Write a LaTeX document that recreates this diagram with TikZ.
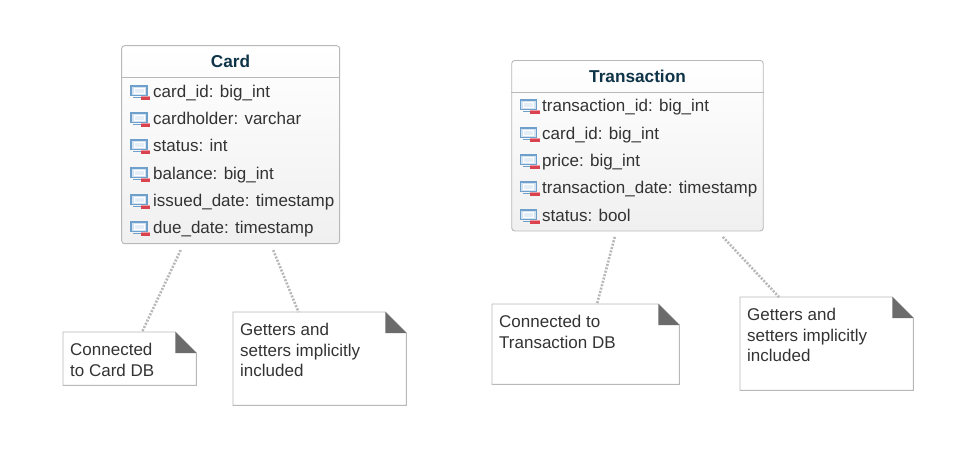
\documentclass[tikz,border=0pt]{standalone}
\usepackage{fontspec}
\setmainfont{Liberation Sans}
\definecolor{classline}{HTML}{B8B8B8}
\definecolor{titleblue}{HTML}{0F3448}
\definecolor{bodytext}{HTML}{333333}
\definecolor{foldgray}{HTML}{6B6B6B}
\definecolor{iconblue}{HTML}{6F9FCB}
\definecolor{iconpale}{HTML}{D3E3F2}
\definecolor{iconred}{HTML}{D8434F}
\definecolor{iconpink}{HTML}{EE9AA2}
\tikzset{
    x=1pt, y=-1pt,
    classbox/.style={rectangle, draw=classline, rounded corners=3pt, inner sep=0pt, anchor=north west, bottom color=black!6, top color=white, line width=0.9pt},
    classtitle/.style={inner sep=0pt, text=titleblue, font=\fontsize{17.2}{20}\selectfont\bfseries},
    fieldtext/.style={inner sep=0pt, anchor=base west, text=bodytext, font=\fontsize{17}{20}\selectfont},
    notebox/.style={rectangle, inner sep=0pt, anchor=north west},
    notetext/.style={inner sep=0pt, anchor=north west, align=left, text=bodytext, font=\fontsize{17}{20.5}\selectfont},
    noteline/.style={draw=black!28, line width=2.6pt, dash pattern=on 2pt off 1.5pt},
    pics/fieldicon/.style={code={
        \draw[draw=iconblue, fill=iconpale, line width=1.8pt] (0.9,0.9) rectangle (17,10.5);
        \draw[draw=white, fill=iconpale!60, line width=0.8pt] (4,3.5) rectangle (14,8);
        \fill[iconblue] (3,12) rectangle (14,13);
        \fill[iconred] (10.5,11) rectangle (20,15);
        \fill[iconpink] (10.5,11) rectangle (20,12);
    }},
}
\begin{document}
\begin{tikzpicture}
    \useasboundingbox (0,0) rectangle (955,451);
    % classes
    \node[classbox, minimum width=218pt, minimum height=198pt] (card) at (121.2,45.2) {};
    \node[classbox, minimum width=251.5pt, minimum height=170.5pt] (transaction) at (511.3,60) {};
    \draw[classline, line width=0.9pt] (card.west |- 0,77) -- (card.east |- 0,77);
    \draw[classline, line width=0.9pt] (transaction.west |- 0,92) -- (transaction.east |- 0,92);
    \node[classtitle] (cardtitle) at (230.5,61.5) {Card};
    \node[classtitle] (transactiontitle) at (637.5,76.5) {Transaction};
    % fields
    \foreach \yy/\txt in {97/card\_id: big\_int, 124/cardholder: varchar, 151/status: int, 179/balance: big\_int, 206/issued\_date: timestamp, 233/due\_date: timestamp} {
        \pic at (130,\yy-12) {fieldicon};
        \node[fieldtext] at (153,\yy) {\txt};
    }
    \foreach \yy/\txt in {111/transaction\_id: big\_int, 139/card\_id: big\_int, 166/price: big\_int, 193/transaction\_date: timestamp, 221/status: bool} {
        \pic at (519.5,\yy-12) {fieldicon};
        \node[fieldtext] at (542,\yy) {\txt};
    }
    % notes
    \node[notebox, minimum width=133pt, minimum height=53pt] (carddb) at (63,332) {};
    \node[notebox, minimum width=173pt, minimum height=93pt] (cardget) at (233,312) {};
    \node[notebox, minimum width=187pt, minimum height=80pt] (transactiondb) at (492,304) {};
    \node[notebox, minimum width=173pt, minimum height=93pt] (transactionget) at (740,297) {};
    \foreach \nm in {carddb,cardget,transactiondb,transactionget} {
        \draw[classline, line width=0.9pt, fill=white] (\nm.north west) -- ([xshift=-21pt]\nm.north east) -- ([yshift=-21pt]\nm.north east) -- (\nm.south east) -- (\nm.south west) -- cycle;
        \fill[foldgray] ([xshift=-21pt]\nm.north east) -- ([yshift=-21pt]\nm.north east) -- ([xshift=-21pt,yshift=-21pt]\nm.north east) -- cycle;
    }
    \node[notetext] (carddbtext) at (70,343) {Connected\\to Card DB};
    \node[notetext] (cardgettext) at (240,323) {Getters and\\setters implicitly\\included};
    \node[notetext] (transactiondbtext) at (499,315) {Connected to\\Transaction DB};
    \node[notetext] (transactiongettext) at (747,308) {Getters and\\setters implicitly\\included};
    % connectors
    \draw[noteline] ([xshift=59.5pt,yshift=-6pt]card.south west) -- ([xshift=79pt]carddb.north west);
    \draw[noteline] ([xshift=152pt,yshift=-6pt]card.south west) -- ([xshift=65.5pt]cardget.north west);
    \draw[noteline] ([xshift=103.5pt,yshift=-5.5pt]transaction.south west) -- ([xshift=105pt]transactiondb.north west);
    \draw[noteline] ([xshift=211.5pt,yshift=-5.5pt]transaction.south west) -- ([xshift=39pt]transactionget.north west);
\end{tikzpicture}
\end{document}
